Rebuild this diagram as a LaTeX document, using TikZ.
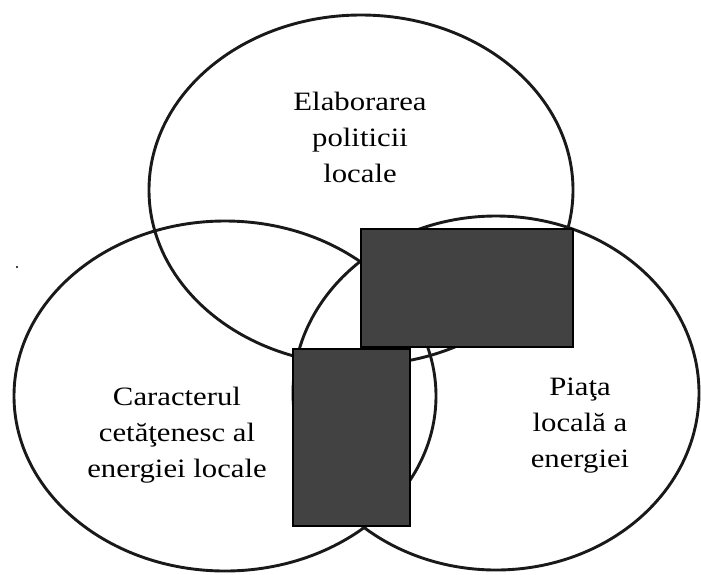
\documentclass[tikz,border=0pt]{standalone}
\usepackage{fontspec}
\setmainfont{Liberation Serif}
\usetikzlibrary{shapes.geometric}
\begin{document}
\begin{tikzpicture}[x=1pt,y=-1pt,
  ring/.style={draw=black!90, line width=2.9pt, ellipse, inner sep=0pt, outer sep=0pt},
  darkbox/.style={draw=black, line width=1.4pt, fill=black!74, inner sep=0pt, outer sep=0pt},
  label/.style={align=center, inner sep=0pt, xscale=1.16,
    font=\fontsize{26.5}{36}\selectfont}]
\useasboundingbox (0,0) rectangle (701,574);
% circles
\node[ring, minimum width=424pt, minimum height=350pt] (top) at (361,190) {};
\node[ring, minimum width=422pt, minimum height=350pt] (left) at (225,396) {};
\node[ring, minimum width=406pt, minimum height=354pt] (right) at (496,393) {};
% dark rectangles
\node[darkbox, minimum width=212pt, minimum height=118pt] (boxA) at (467,288) {};
\node[darkbox, minimum width=117pt, minimum height=177pt] (boxB) at (351.5,437.5) {};
% labels
\node[label] (ltop) at (360,137) {Elaborarea\\politicii\\locale};
\node[label] (lleft) at (177,435) {Caracterul\\cetăţenesc al\\energiei locale};
\node[label] (lright) at (580,426) {Piaţa\\locală a\\energiei};
% scan speck
\fill[black] (17,267) circle (1.1pt);
\end{tikzpicture}
\end{document}
